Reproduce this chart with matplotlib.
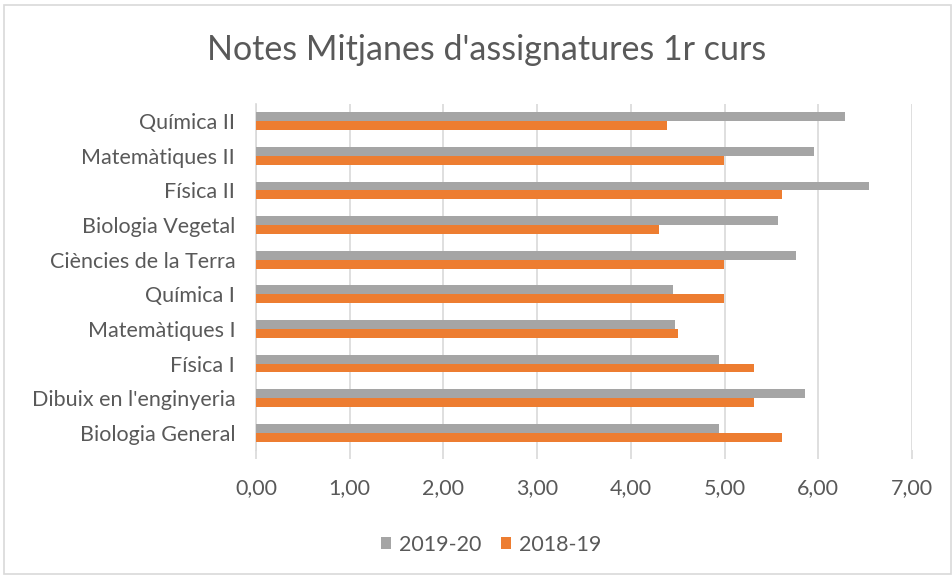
import matplotlib
matplotlib.use("Agg")
import matplotlib.pyplot as plt
from matplotlib.ticker import FuncFormatter
from matplotlib.patches import Rectangle
import numpy as np

categories = ["Biologia General", "Dibuix en l'enginyeria", "Física I", "Matemàtiques I",
              "Química I", "Ciències de la Terra", "Biologia Vegetal", "Física II",
              "Matemàtiques II", "Química II"]
s2019_20 = [4.94, 5.86, 4.94, 4.47, 4.45, 5.76, 5.57, 6.54, 5.95, 6.29]
s2018_19 = [5.61, 5.31, 5.31, 4.50, 4.99, 4.99, 4.30, 5.61, 4.99, 4.39]
series_names = ["2019-20", "2018-19"]
xticks = [0, 1, 2, 3, 4, 5, 6, 7]

plt.rcParams['font.family'] = ['Lato', 'DejaVu Sans']
txt = '#595959'
grid = '#d9d9d9'
c_gray = '#a5a5a5'
c_orange = '#ed7d31'

W, H = 952, 577
fig = plt.figure(figsize=(W/100, H/100), dpi=100)
ax = fig.add_axes([256/W, 1-450/H, (912-256)/W, (450-104)/H])

y = np.arange(len(categories))
bh = 0.26
ax.barh(y + bh/2, s2019_20, height=bh, color=c_gray, label=series_names[0], zorder=3)
ax.barh(y - bh/2, s2018_19, height=bh, color=c_orange, label=series_names[1], zorder=3)

ax.set_xlim(0, 7)
ax.set_ylim(-0.5, len(categories) - 0.5)
ax.set_xticks(xticks)
ax.xaxis.set_major_formatter(FuncFormatter(lambda v, p: f"{v:.2f}".replace('.', ',')))
ax.set_yticks(y)
ax.set_yticklabels(categories)
ax.grid(axis='x', color=grid, linewidth=1.2, zorder=0)
ax.tick_params(axis='x', colors=grid, labelcolor=txt, labelsize=15.5, length=6.5, width=1.2, pad=14)
ax.tick_params(axis='y', length=0, labelcolor=txt, labelsize=15.5, pad=15)
for s in ['top', 'right', 'bottom']:
    ax.spines[s].set_visible(False)
ax.spines['left'].set_color(grid)
ax.spines['left'].set_linewidth(1.2)

fig.text(487/W, 1-50/H, "Notes Mitjanes d'assignatures 1r curs", ha='center', va='center',
         fontsize=24.5, color=txt)

leg = fig.legend(loc='center', bbox_to_anchor=(491/W, 1-545/H), ncol=2, frameon=False,
                 fontsize=15.5, labelcolor=txt, handlelength=0.5, handleheight=0.5,
                 handletextpad=0.35, columnspacing=0.9)

fig.patches.append(Rectangle((4/W, 3/H), (W-5)/W, (H-8)/H, transform=fig.transFigure,
                             fill=False, edgecolor=grid, linewidth=1.2))

fig.savefig("out.png", dpi=100)
